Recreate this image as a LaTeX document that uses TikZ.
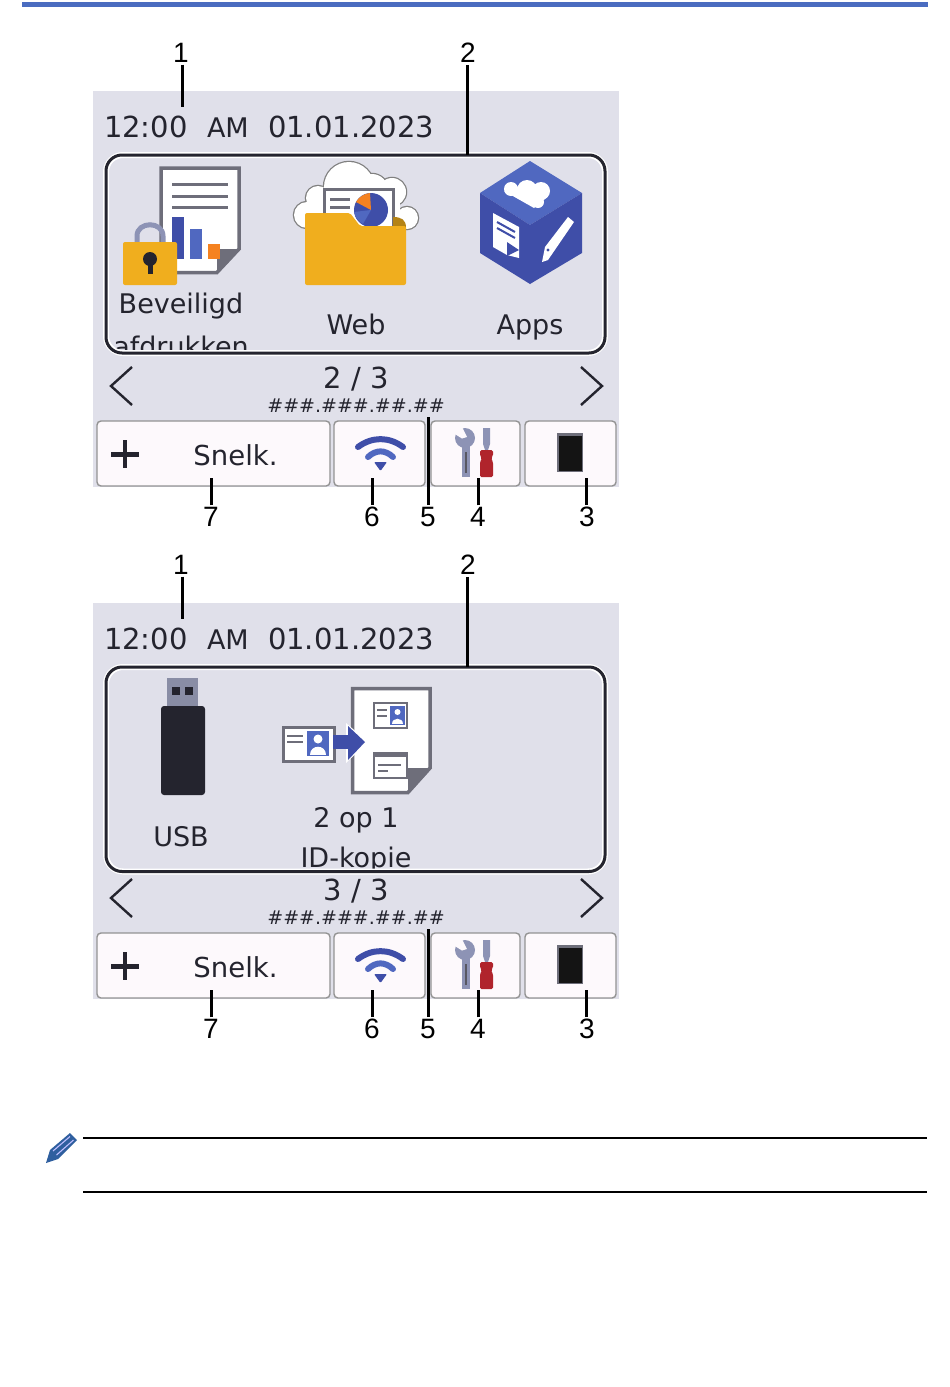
\documentclass[tikz,border=0pt]{standalone}
\usepackage{fontspec}
\setmainfont{DejaVu Sans}
\newfontfamily\labelfont{Liberation Sans}
\definecolor{panel}{HTML}{E0E0EA}
\definecolor{ink}{HTML}{24242E}
\definecolor{docgrey}{HTML}{6E6E7A}
\definecolor{lilac}{HTML}{8D93B5}
\definecolor{blueA}{HTML}{3F4EA8}
\definecolor{blueB}{HTML}{5068C0}
\definecolor{gold}{HTML}{F0AE1E}
\definecolor{orangeA}{HTML}{F58220}
\definecolor{btn}{HTML}{FDF9FC}
\definecolor{topbar}{HTML}{4A6CC0}
\definecolor{redtool}{HTML}{B0242C}
\definecolor{pencil}{HTML}{2F5F9F}
\tikzset{
  every node/.style={inner sep=0pt,outer sep=0pt},
  callout/.style={draw=black,line width=3pt},
  numlabel/.style={font=\labelfont\fontsize{28}{28}\selectfont,text=black},
  scr/.style={font=\fontsize{29}{29}\selectfont,text=ink},
  lbl/.style={font=\fontsize{27}{27}\selectfont,text=ink},
  softkey/.style={draw=gray!85,line width=1.4pt,fill=btn,rounded corners=4pt},
  chev/.style={draw=ink,line width=2.4pt},
  docline/.style={draw=docgrey,line width=3pt},
  note/.style={draw=black,line width=2pt}
}
% #1 prefix, #2 y offset, #3 page text, #4 panel bottom, #5 panel contents
\newcommand{\lcdscreen}[5]{%
\begin{scope}[shift={(0,#2)}]
  \fill[panel] (93,91) rectangle (619,487);
  \node[scr,anchor=base west] (#1time) at (104,137) {12:00};
  \node[font=\fontsize{27}{27}\selectfont,text=ink,anchor=base west] (#1ampm) at (207,137) {AM};
  \node[scr,anchor=base west] (#1date) at (268,137) {01.01.2023};
  #5
  \draw[white,line width=6pt,rounded corners=17pt] (106,155) rectangle (605,#4);
  \draw[ink,line width=3pt,rounded corners=16pt] (106,155) rectangle (605,#4);
  \draw[chev] (132,367) -- (111,386) -- (132,405);
  \draw[chev] (581,367) -- (602,386) -- (581,405);
  \node[scr] (#1page) at (356,379) {#3};
  \node[font=\fontsize{19}{19}\selectfont,text=ink] (#1ip) at (356,406) {\#\#\#.\#\#\#.\#\#.\#\#};
  % soft keys
  \draw[softkey] (97,421) rectangle (330,486);
  \draw[softkey] (334,421) rectangle (425,486);
  \draw[softkey] (431,421) rectangle (520,486);
  \draw[softkey] (525,421) rectangle (616,486);
  \fill[ink] (111,452) rectangle (139,456.5);
  \fill[ink] (122.7,440) rectangle (127.3,468);
  \node[font=\fontsize{27.5}{27.5}\selectfont,text=ink] (#1snelk) at (235.5,455) {Snelk.};
  % wifi
  \draw[blueA,line width=6pt,line cap=round] (358,447) .. controls (372,436.5) and (389,436.5) .. (403,447);
  \draw[blueB,line width=6pt,line cap=round] (368,457) .. controls (376,449.5) and (385,449.5) .. (393,457);
  \fill[blueA,rounded corners=1pt] (374,462) -- (387,462) -- (380.5,471) -- cycle;
  % tools
  \fill[lilac] (465,438) circle (10);
  \fill[btn] (454,427) -- (462,427) -- (467,437) -- (462,438.5) -- (454,433.5) -- cycle;
  \fill[lilac] (462,444) rectangle (470,477);
  \draw[docgrey!70!ink,line width=1.6pt] (466,452) -- (466,473);
  \fill[lilac] (483,428) -- (490,428) -- (490,444) -- (488,450) -- (485,450) -- (483,444) -- cycle;
  \fill[redtool,rounded corners=1.5pt] (480,450) -- (493,450) -- (493,456) -- (491,458) -- (493,462) -- (493,477) -- (480,477) -- (480,462) -- (482,458) -- (480,456) -- cycle;
  % ink
  \fill[docgrey] (557,433) rectangle (583,472);
  \fill[black!92] (559,436) rectangle (582,471);
  % callouts
  \coordinate (#1c1) at (182,107);
  \coordinate (#1c2) at (467,155);
  \coordinate (#1c3) at (586.5,478);
  \coordinate (#1c4) at (478,478);
  \coordinate (#1c5) at (428,417);
  \coordinate (#1c6) at (372,478);
  \coordinate (#1c7) at (211,478);
  \node[numlabel] (#1n1) at (181,53) {1};
  \node[numlabel] (#1n2) at (468,53) {2};
  \node[numlabel] (#1n3) at (587,517) {3};
  \node[numlabel] (#1n4) at (478,517) {4};
  \node[numlabel] (#1n5) at (428,517) {5};
  \node[numlabel] (#1n6) at (372,517) {6};
  \node[numlabel] (#1n7) at (211,517) {7};
  \draw[callout] (#1n1.south -| #1c1) ++(0,2) -- (#1c1);
  \draw[callout] (#1n2.south -| #1c2) ++(0,2) -- (#1c2);
  \draw[callout] (#1n3.north -| #1c3) ++(0,-2) -- (#1c3);
  \draw[callout] (#1n4.north -| #1c4) ++(0,-2) -- (#1c4);
  \draw[callout] (#1n5.north -| #1c5) ++(0,-2) -- (#1c5);
  \draw[callout] (#1n6.north -| #1c6) ++(0,-2) -- (#1c6);
  \draw[callout] (#1n7.north -| #1c7) ++(0,-2) -- (#1c7);
\end{scope}}
\begin{document}
\begin{tikzpicture}[x=1pt,y=-1pt]
\useasboundingbox (0,0) rectangle (950,1387);
\fill[white] (0,0) rectangle (950,1387);
\fill[topbar] (22,2) rectangle (928,7);

\lcdscreen{a}{0}{2 / 3}{353}{%
  % secure print document
  \fill[white,draw=docgrey,line width=3.5pt] (161,168) -- (239,168) -- (239,249) -- (217,272.5) -- (161,272.5) -- cycle;
  \fill[docgrey] (217,249) -- (241,249) -- (217,274) -- cycle;
  \draw[docline] (172,184) -- (228,184);
  \draw[docline] (172,196) -- (228,196);
  \draw[docline] (172,207) -- (228,207);
  \fill[blueA] (172,217) rectangle (184,259);
  \fill[blueB] (190,229) rectangle (202,259);
  \fill[orangeA] (208,244) rectangle (220,259);
  \draw[lilac,line width=5pt] (137,244) -- (137,236) .. controls (137,221) and (163,221) .. (163,236) -- (163,244);
  \fill[gold,rounded corners=2pt] (123,242) rectangle (177,285);
  \fill[ink] (150,259) circle (7);
  \fill[ink] (147.5,260) rectangle (152.5,274);
  % web
  \foreach \c/\r in {{(307,215)}/13,{(318,198)}/12,{(349,187)}/25,{(392,192)}/14,{(407,218)}/11,{(372,190)}/16}{
    \draw[gray,line width=2.5pt] \c circle (\r);}
  \foreach \c/\r in {{(307,215)}/13,{(318,198)}/12,{(349,187)}/25,{(392,192)}/14,{(407,218)}/11,{(372,190)}/16}{
    \fill[white] \c circle (\r);}
  \fill[white] (310,190) rectangle (400,232);
  \fill[white,draw=docgrey,line width=3pt] (324,189) rectangle (393,240);
  \draw[docgrey,line width=3pt] (330,199) -- (350,199);
  \draw[docgrey,line width=3pt] (330,207) -- (350,207);
  \fill[blueA] (371,210) circle (17);
  \fill[blueB] (371,210) -- (354,212) .. controls (355,217) and (358,221) .. (363,224) -- cycle;
  \fill[orangeA] (371,210) -- (356,202) .. controls (359,197) and (364,193.5) .. (370,193) -- cycle;
  \fill[gold!75!black] (393,217) .. controls (402,217) and (406,220) .. (406,228) -- (393,228) -- cycle;
  \fill[gold,rounded corners=2pt] (305,213) -- (350,213) -- (360,226) -- (406,226) -- (406,285) -- (305,285) -- cycle;
  % apps cube
  \fill[blueB] (530,161) -- (582,193) -- (530,225) -- (480,193) -- cycle;
  \fill[blueA] (480,193) -- (530,225) -- (530,284) -- (480,253) -- cycle;
  \fill[blueA] (582,193) -- (530,225) -- (530,284) -- (582,253) -- cycle;
  \fill[white] (511,189) circle (7);
  \fill[white] (527,190) circle (10);
  \fill[white] (541,191) circle (9);
  \fill[white] (538,202) circle (6);
  \fill[white] (504,191) -- (534,208) -- (546,198) -- (530,183) -- cycle;
  \fill[white] (493,213) -- (519,227) -- (519,258) -- (507,255) -- (493,247) -- cycle;
  \draw[blueA,line width=2pt] (497,222) -- (515,232);
  \draw[blueA,line width=2pt] (497,228) -- (515,238);
  \fill[blueA] (507,242) -- (519,250) -- (507,256) -- cycle;
  \fill[white] (568,217) -- (574,222) -- (548,260) -- (542,262) -- (545,247) -- cycle;
  \fill[blueA] (548,250) circle (1.6);
  % labels, cut off by the panel
  \begin{scope}
    \clip (106,155) rectangle (605,351);
    \node[lbl] (abev) at (181,306) {Beveiligd};
    \node[lbl,anchor=base] (aafd) at (181,356) {afdrukken};
    \node[lbl,anchor=base] (aweb) at (356,334) {Web};
    \node[lbl,anchor=base] (aapp) at (530,334) {Apps};
  \end{scope}
}

\lcdscreen{b}{512}{3 / 3}{359.5}{%
  % usb
  \fill[lilac!70!gray] (167,166) rectangle (198,195);
  \fill[ink] (172,175) rectangle (180,183);
  \fill[ink] (185,175) rectangle (193,183);
  \fill[ink,rounded corners=3pt] (161,194) rectangle (205,283);
  % 2 in 1 document
  \fill[white,draw=docgrey,line width=3.5pt] (352.5,176.5) -- (430,176.5) -- (430,256) -- (408,280.5) -- (352.5,280.5) -- cycle;
  \fill[docgrey] (408,256) -- (432,256) -- (408,282) -- cycle;
  \fill[white,draw=docgrey,line width=2pt] (374,191) rectangle (407,216);
  \fill[blueB] (390,194) rectangle (405,213);
  \fill[white] (397.5,200) circle (3);
  \fill[white] (392,212) .. controls (392,205) and (403,205) .. (403,212) -- cycle;
  \draw[docgrey,line width=2pt] (377,198) -- (387,198);
  \draw[docgrey,line width=2pt] (377,204) -- (387,204);
  \fill[white,draw=docgrey,line width=2pt] (374,241) rectangle (407,266);
  \fill[docgrey] (374,241) rectangle (407,245);
  \draw[docgrey,line width=2pt] (378,253) -- (401,253);
  \draw[docgrey,line width=2pt] (378,259) -- (388,259);
  \fill[white,draw=docgrey,line width=3pt] (283,215.5) rectangle (334,249);
  \fill[blueB] (307,219) rectangle (329,244);
  \fill[white] (318,227) circle (4.5);
  \fill[white] (310,243) .. controls (310,232) and (326,232) .. (326,243) -- cycle;
  \draw[docgrey,line width=2.5pt] (287,224) -- (303,224);
  \draw[docgrey,line width=2.5pt] (287,230) -- (303,230);
  \fill[white] (346,211) -- (368,230) -- (346,251) -- cycle;
  \fill[blueA] (333,223) rectangle (349,237);
  \fill[blueA] (348,214) -- (365,230) -- (348,248) -- cycle;
  \begin{scope}
    \clip (106,155) rectangle (605,356);
    \node[lbl,anchor=base] (busb) at (181,334) {USB};
    \node[lbl,anchor=base] (bopt) at (356,315) {2 op 1};
    \node[lbl,anchor=base] (bidk) at (356,355) {ID-kopie};
  \end{scope}
}

% note
\coordinate (ruleA) at (83,1138);
\coordinate (ruleB) at (927,1138);
\coordinate (ruleC) at (83,1192);
\coordinate (ruleD) at (927,1192);
\draw[note] (ruleA) -- (ruleB);
\draw[note] (ruleC) -- (ruleD);
\fill[pencil] (46,1163) -- (50,1150) -- (70,1133) -- (77,1140) -- (58,1159) -- cycle;
\draw[white!75!blue,line width=1.1pt] (53,1151) -- (70,1136.5);
\draw[white!75!blue,line width=1.1pt] (56.5,1155) -- (73.5,1140);
\end{tikzpicture}
\end{document}
